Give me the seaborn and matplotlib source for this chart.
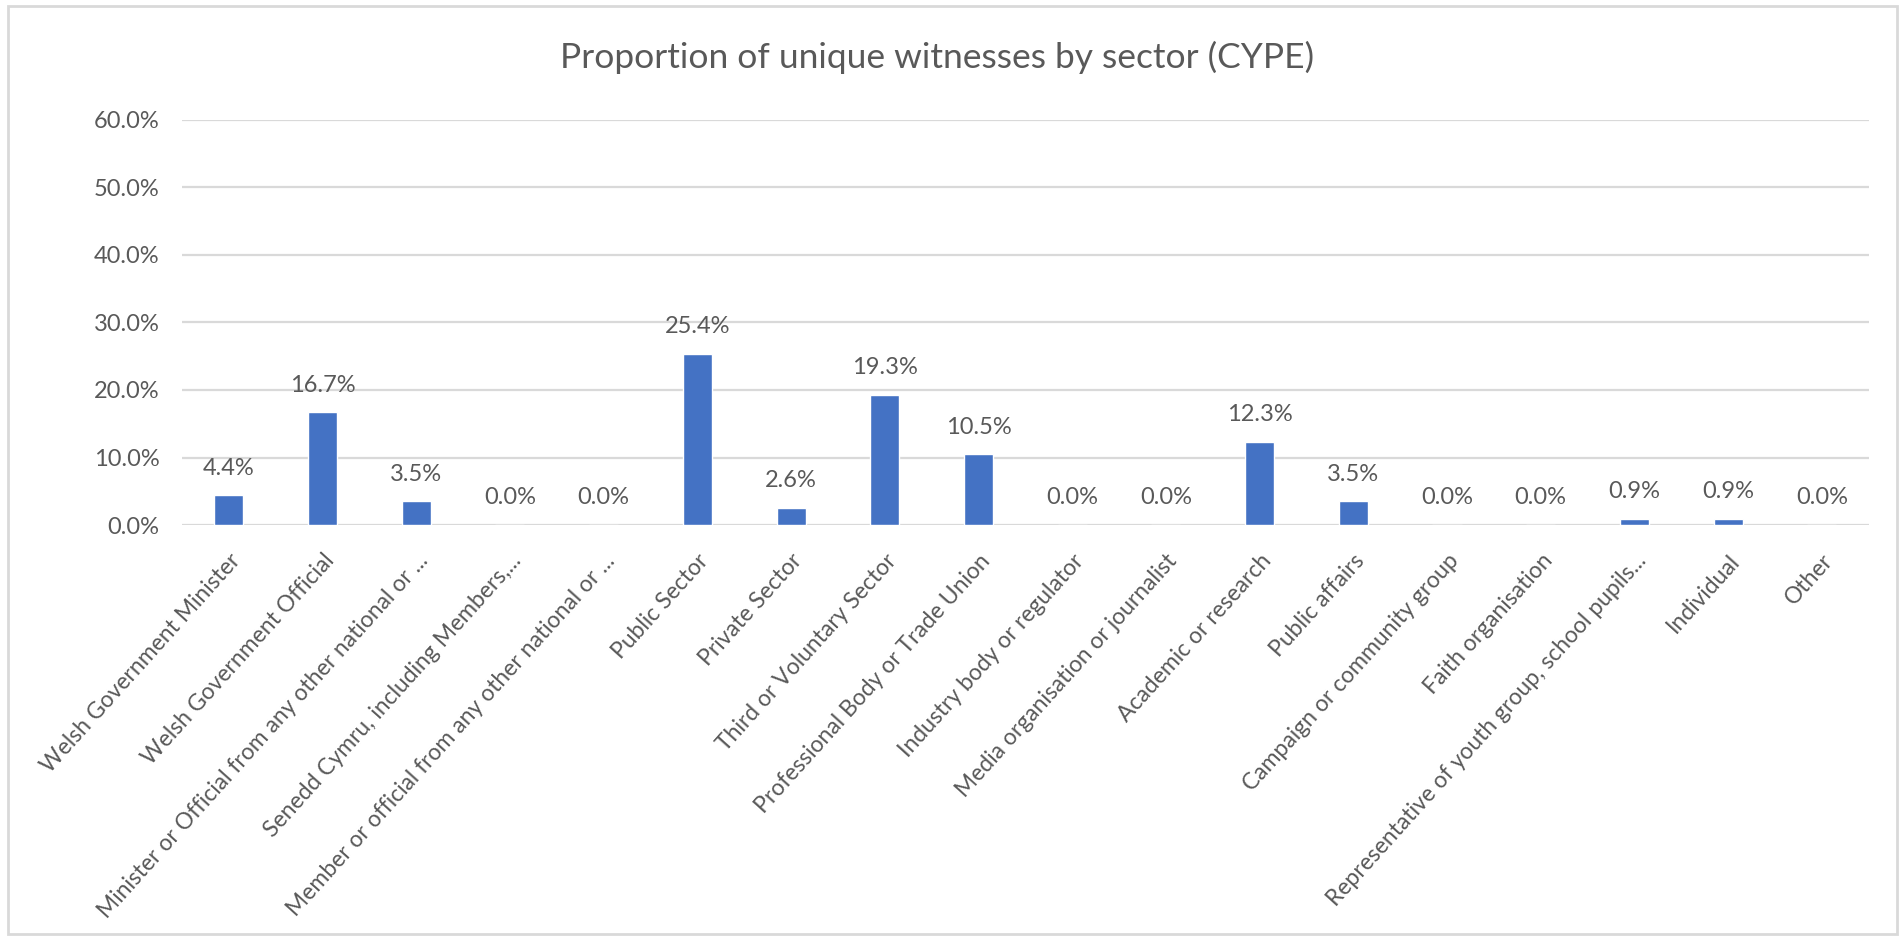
import matplotlib
matplotlib.use('Agg')
import matplotlib.pyplot as plt
import matplotlib.patches as mpatches
from matplotlib.ticker import PercentFormatter
import pandas as pd
import seaborn as sns

# categories and values (proportion of unique witnesses)
sectors = [
    'Welsh Government Minister',
    'Welsh Government Official',
    'Minister or Official from any other national or ...',
    'Senedd Cymru, including Members,...',
    'Member or official from any other national or ...',
    'Public Sector',
    'Private Sector',
    'Third or Voluntary Sector',
    'Professional Body or Trade Union',
    'Industry body or regulator',
    'Media organisation or journalist',
    'Academic or research',
    'Public affairs',
    'Campaign or community group',
    'Faith organisation',
    'Representative of youth group, school pupils...',
    'Individual',
    'Other',
]
shares = [0.044, 0.167, 0.035, 0.0, 0.0, 0.254, 0.026, 0.193, 0.105,
          0.0, 0.0, 0.123, 0.035, 0.0, 0.0, 0.009, 0.009, 0.0]
yticks = [0.0, 0.1, 0.2, 0.3, 0.4, 0.5, 0.6]

df = pd.DataFrame({'sector': sectors, 'share': shares})

sns.set_style('white')
plt.rcParams['font.family'] = ['Lato', 'DejaVu Sans']
text_col = '#595959'

fig = plt.figure(figsize=(19.01, 9.36), dpi=100)
ax = fig.add_axes([0.0957, 0.439, 0.8873, 0.433])

sns.barplot(data=df, x='sector', y='share', color='#4472C4', width=0.31,
            saturation=1, ax=ax, zorder=3)

ax.set_ylim(0, 0.6)
ax.set_yticks(yticks)
ax.yaxis.set_major_formatter(PercentFormatter(1.0, decimals=1))
ax.grid(axis='y', color='#D9D9D9', linewidth=1.6, zorder=0)
ax.set_axisbelow(True)
for s in ax.spines.values():
    s.set_visible(False)
ax.set_xlabel('')
ax.set_ylabel('')
ax.tick_params(axis='y', length=0, pad=16, labelsize=17, labelcolor=text_col)
ax.tick_params(axis='x', length=0, pad=18)
ax.set_xticks(range(len(sectors)))
ax.set_xticklabels(sectors, rotation=48, ha='right', va='top',
                   rotation_mode='anchor', fontsize=16.5, color=text_col)
ax.set_xlim(-0.5, len(sectors) - 0.5)

for i, v in enumerate(shares):
    ax.annotate(f'{v * 100:.1f}%', (i, v), xytext=(0, 12),
                textcoords='offset points', ha='center', va='bottom',
                fontsize=17, color=text_col)

fig.text(0.493, 0.939, 'Proportion of unique witnesses by sector (CYPE)',
         ha='center', va='center', fontsize=25.5, color=text_col)

fig.patches.append(mpatches.Rectangle((0.004, 0.002), 0.994, 0.992,
                                      transform=fig.transFigure, fill=False,
                                      edgecolor='#D9D9D9', linewidth=2))

fig.savefig('out.png', dpi=100)
